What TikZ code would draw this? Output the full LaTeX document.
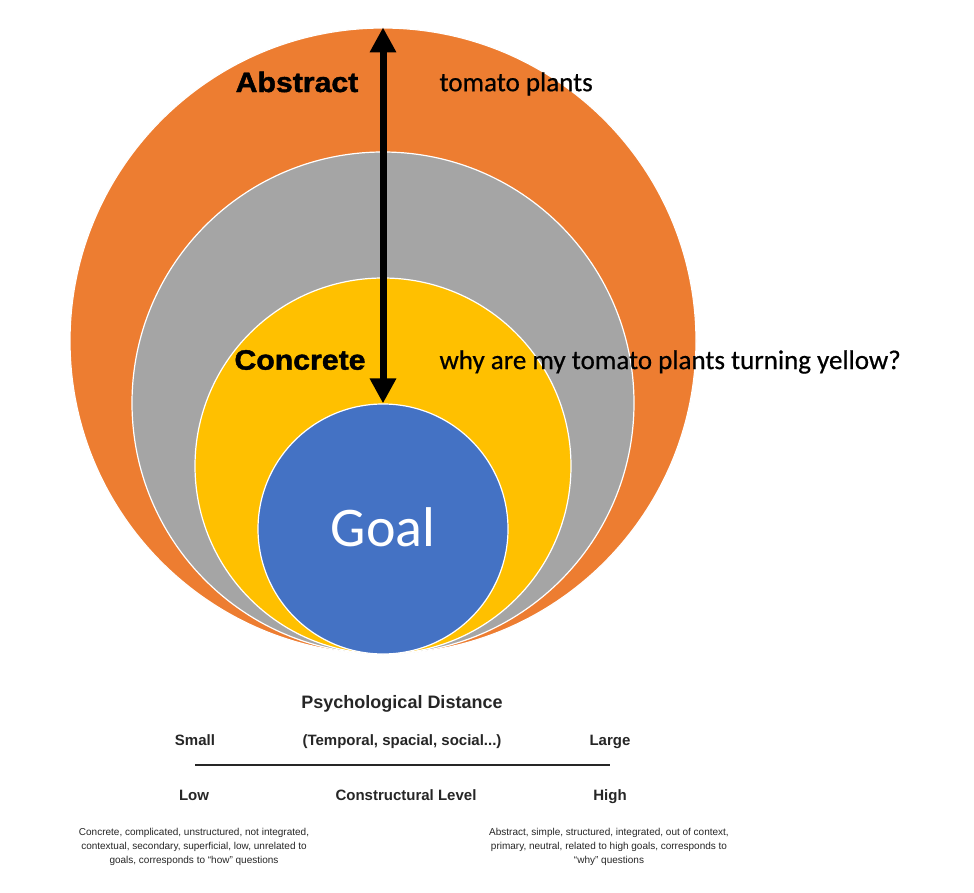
\documentclass[tikz,border=0pt]{standalone}
\usepackage{fontspec}
\setmainfont{Liberation Sans}
\newfontfamily\calib{Carlito}
\newfontfamily\calibx{Carlito}[FakeBold=0.6]
\newfontfamily\heavy{Liberation Sans}[UprightFont={* Bold}, FakeBold=1.5]
\usetikzlibrary{arrows.meta}
\definecolor{orng}{HTML}{ED7D31}
\definecolor{gry}{HTML}{A5A5A5}
\definecolor{ylw}{HTML}{FFC000}
\definecolor{blu}{HTML}{4472C4}
\definecolor{txt}{HTML}{262626}
\begin{document}
\begin{tikzpicture}[x=1pt,y=-1pt,
  ring/.style={circle, draw=white, line width=1.2pt, inner sep=0pt},
  heading/.style={font=\heavy\fontsize{28}{32}\selectfont, text=black, xscale=1.08},
  example/.style={font=\calibx\fontsize{27}{30}\selectfont, text=black, anchor=west},
  axislabel/.style={font=\bfseries\fontsize{15}{18}\selectfont, text=txt, anchor=base},
  desc/.style={font=\fontsize{10}{14}\selectfont, text=txt, align=center}]
\useasboundingbox (0,0) rectangle (974,893);
\fill[white] (0,0) rectangle (974,893);
% nested circles
\node[ring, fill=orng, minimum size=626pt] (outer) at (383,341) {};
\node[ring, fill=gry, minimum size=502pt] (mid) at (383,403) {};
\node[ring, fill=ylw, minimum size=376pt] (inner) at (383,466) {};
\node[ring, fill=blu, minimum size=250pt, text=white, font=\calib\fontsize{56}{60}\selectfont] (goal) at (383,529) {\raisebox{4pt}{Goal}};
% arrow
\draw[line width=7pt, {Triangle[width=25pt,length=25pt]}-{Triangle[width=25pt,length=25pt]}] (goal.north) -- (outer.north);
% labels
\node[heading] (abs) at (297,82) {Abstract};
\node[heading] (con) at (300,360) {Concrete};
\node[example] (tom) at (436,84) {tomato plants};
\node[example] (why) at (436,362) {why are my tomato plants turning yellow?};
% bottom
\node[axislabel, font=\bfseries\fontsize{18}{20}\selectfont] (psy) at (402,708.5) {Psychological Distance};
\node[axislabel] (small) at (195,745.5) {Small};
\node[axislabel] (temp) at (402,745.5) {(Temporal, spacial, social...)};
\node[axislabel] (large) at (610,745) {Large};
\coordinate (lineL) at (195,765);
\coordinate (lineR) at (610,765);
\draw[line width=2pt, txt] (lineL) -- (lineR);
\node[axislabel] (low) at (194,800.5) {Low};
\node[axislabel] (clev) at (406,800.5) {Constructural Level};
\node[axislabel] (high) at (610,800.5) {High};
\node[desc] (ldesc) at (194,847) {Concrete, complicated, unstructured, not integrated,\\contextual, secondary, superficial, low, unrelated to\\goals, corresponds to ``how'' questions};
\node[desc] (rdesc) at (609,847) {Abstract, simple, structured, integrated, out of context,\\primary, neutral, related to high goals, corresponds to\\``why'' questions};
\end{tikzpicture}
\end{document}
